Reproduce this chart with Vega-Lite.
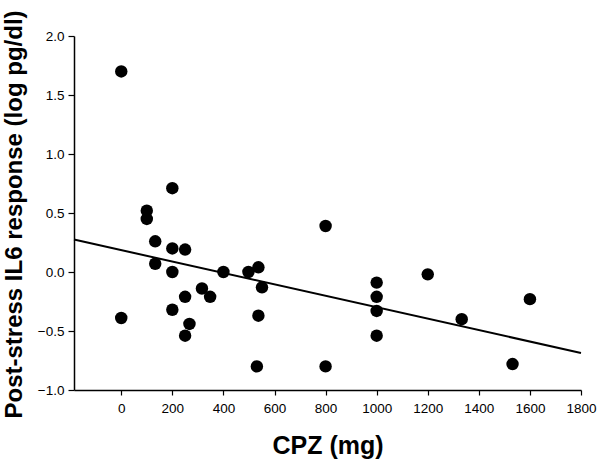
{
  "$schema": "https://vega.github.io/schema/vega-lite/v6.json",
  "width": 507,
  "height": 354,
  "autosize": {"type": "none"},
  "padding": {"left": 74, "top": 36, "right": 19, "bottom": 69},
  "background": "white",
  "config": {
    "view": {"stroke": null},
    "axis": {
      "grid": false,
      "domainColor": "black",
      "domainWidth": 1.5,
      "tickColor": "black",
      "tickWidth": 1.2,
      "labelFont": "Liberation Sans",
      "labelFontSize": 13.5,
      "labelColor": "black",
      "titleFont": "Liberation Sans",
      "titleFontWeight": "bold",
      "titleFontSize": 25,
      "titleColor": "black"
    }
  },
  "datasets": {
    "points": [
      {"cpz": 0, "il6": 1.70},
      {"cpz": 200, "il6": 0.71},
      {"cpz": 100, "il6": 0.52},
      {"cpz": 100, "il6": 0.45},
      {"cpz": 133, "il6": 0.26},
      {"cpz": 200, "il6": 0.20},
      {"cpz": 250, "il6": 0.19},
      {"cpz": 133, "il6": 0.07},
      {"cpz": 200, "il6": 0.00},
      {"cpz": 400, "il6": 0.00},
      {"cpz": 498, "il6": 0.00},
      {"cpz": 537, "il6": 0.04},
      {"cpz": 551, "il6": -0.13},
      {"cpz": 316, "il6": -0.14},
      {"cpz": 348, "il6": -0.21},
      {"cpz": 250, "il6": -0.21},
      {"cpz": 200, "il6": -0.32},
      {"cpz": 0, "il6": -0.39},
      {"cpz": 537, "il6": -0.37},
      {"cpz": 267, "il6": -0.44},
      {"cpz": 250, "il6": -0.54},
      {"cpz": 531, "il6": -0.80},
      {"cpz": 800, "il6": -0.80},
      {"cpz": 800, "il6": 0.39},
      {"cpz": 1000, "il6": -0.09},
      {"cpz": 1000, "il6": -0.21},
      {"cpz": 1000, "il6": -0.33},
      {"cpz": 1000, "il6": -0.54},
      {"cpz": 1200, "il6": -0.02},
      {"cpz": 1333, "il6": -0.40},
      {"cpz": 1600, "il6": -0.23},
      {"cpz": 1532, "il6": -0.78}
    ],
    "fit": [
      {"cpz": -185, "il6": 0.275},
      {"cpz": 1800, "il6": -0.686}
    ]
  },
  "layer": [
    {
      "data": {"name": "fit"},
      "mark": {"type": "line", "color": "black", "strokeWidth": 2},
      "encoding": {
        "x": {
          "field": "cpz", "type": "quantitative",
          "scale": {"domain": [-185, 1800], "nice": false, "zero": false},
          "axis": {
            "title": "CPZ (mg)",
            "values": [0, 200, 400, 600, 800, 1000, 1200, 1400, 1600, 1800],
            "format": "d",
            "tickSize": 5,
            "labelPadding": 6,
            "titleX": 253.5,
            "titleY": 63,
            "titleBaseline": "alphabetic",
            "titleAlign": "center",
            "labelFlush": false,
            "labelOverlap": false
          }
        },
        "y": {
          "field": "il6", "type": "quantitative",
          "scale": {"domain": [-1, 2], "nice": false, "zero": false},
          "axis": {
            "title": "Post-stress IL6 response (log pg/dl)",
            "titleFontSize": 24,
            "values": [-1, -0.5, 0, 0.5, 1, 1.5, 2],
            "format": ".1f",
            "tickSize": 6,
            "labelPadding": 4,
            "titleX": -60,
            "titleY": 178,
            "titleAngle": -90,
            "titleAlign": "center",
            "titleBaseline": "middle",
            "labelFlush": false,
            "labelOverlap": false
          }
        }
      }
    },
    {
      "data": {"name": "points"},
      "mark": {"type": "circle", "color": "black", "opacity": 1, "size": 155},
      "encoding": {
        "x": {"field": "cpz", "type": "quantitative"},
        "y": {"field": "il6", "type": "quantitative"}
      }
    }
  ]
}
